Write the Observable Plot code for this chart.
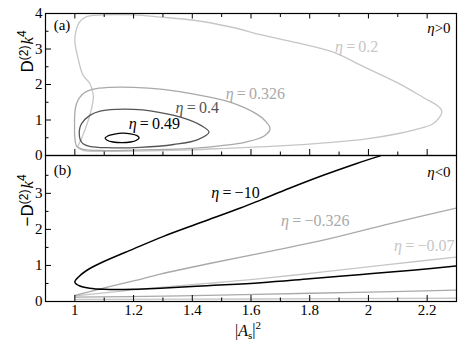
<!DOCTYPE html>
<html><head><meta charset="utf-8">
<script src="https://cdn.jsdelivr.net/npm/d3@7"></script>
<script src="https://cdn.jsdelivr.net/npm/@observablehq/plot@0.6"></script>
<style>
body{margin:0;background:#fff;}
#chart svg{display:block;overflow:visible;}
#chart svg + svg{margin-top:-2px;}
</style></head><body><div id="chart"></div>
<script>
// ---------- data ----------
const xTicks = [1, 1.2, 1.4, 1.6, 1.8, 2, 2.2];
const xMinor = [1.1, 1.3, 1.5, 1.7, 1.9, 2.1];
const yTicksA = [0, 1, 2, 3, 4];
const yTicksB = [0, 1, 2, 3];
const yMinor = [0.5, 1.5, 2.5, 3.5];

// panel (a): closed contours, eta > 0
const eta049 = [[1.103,0.49],[1.112,0.55],[1.135,0.60],[1.161,0.63],[1.19,0.61],[1.212,0.56],[1.219,0.50],[1.21,0.43],[1.19,0.38],[1.161,0.36],[1.13,0.38],[1.11,0.43]];
const eta04 = [[1.015,0.61],[1.017,0.78],[1.023,0.9],[1.051,1.13],[1.086,1.25],[1.143,1.30],[1.2,1.30],[1.257,1.26],[1.36,1.08],[1.429,0.85],[1.457,0.66],[1.417,0.44],[1.337,0.31],[1.223,0.23],[1.109,0.22],[1.05,0.26],[1.028,0.33],[1.018,0.45]];
const eta0326 = [[1.0,0.5],[0.999,0.9],[1.0,1.2],[1.006,1.47],[1.025,1.72],[1.06,1.86],[1.12,1.92],[1.2,1.92],[1.3,1.86],[1.411,1.72],[1.526,1.51],[1.617,1.18],[1.648,0.98],[1.665,0.75],[1.645,0.55],[1.583,0.38],[1.5,0.28],[1.411,0.21],[1.3,0.17],[1.2,0.15],[1.1,0.14],[1.03,0.17],[1.007,0.25]];
const eta02 = [[1.097,3.96],[1.2,3.96],[1.291,3.9],[1.405,3.81],[1.531,3.62],[1.64,3.39],[1.76,3.17],[1.874,2.93],[1.987,2.49],[2.103,2.03],[2.194,1.6],[2.232,1.42],[2.25,1.25],[2.24,1.05],[2.217,0.88],[2.16,0.73],[2.103,0.62],[1.988,0.46],[1.874,0.37],[1.7,0.27],[1.531,0.21],[1.4,0.16],[1.25,0.13],[1.1,0.12],[1.03,0.14],[1.011,0.23],[1.023,0.48],[1.04,0.85],[1.057,1.33],[1.063,1.69],[1.051,2.03],[1.028,2.26],[1.011,2.73],[1.0,3.2],[1.003,3.48],[1.017,3.77],[1.04,3.91]];

// panel (b): open curves, eta < 0
const etaM10 = [[2.04,4.04],[1.96,3.83],[1.846,3.5],[1.731,3.14],[1.634,2.82],[1.566,2.6],[1.429,2.19],[1.3,1.8],[1.2,1.46],[1.086,1.06],[1.04,0.86],[1.015,0.70],[1.0,0.54],[1.017,0.43],[1.05,0.37],[1.1,0.34],[1.2,0.34],[1.291,0.37],[1.45,0.44],[1.634,0.52],[1.8,0.63],[1.977,0.75],[2.15,0.87],[2.309,0.99]];
const etaM0326Upper = [[1.0,0.17],[1.097,0.37],[1.2,0.57],[1.291,0.76],[1.45,1.04],[1.634,1.34],[1.846,1.7],[2.074,2.16],[2.309,2.61]];
const etaM0326Lower = [[1.0,0.12],[1.3,0.15],[1.617,0.2],[2.0,0.26],[2.309,0.32]];
const etaM007Upper = [[1.0,0.16],[1.1,0.24],[1.2,0.32],[1.3,0.40],[1.45,0.50],[1.617,0.62],[1.846,0.82],[2.074,1.03],[2.309,1.24]];
const etaM007Lower = [[1.0,0.06],[1.617,0.07],[2.309,0.09]];

// labels
const labelsAText = ["η=0.2", "η=0.326", "η=0.4", "η=0.49"];
const labelsAX = [1.96, 1.615, 1.417, 1.271];
const labelsAY = [3.06, 1.74, 1.35, 0.88];
const labelsBText = ["η=−10", "η=−0.326"];
const labelsBX = [1.547, 1.819];
const labelsBY = [3.02, 2.24];
const labelB3Text = ["η=−0.07"];
const labelB3X = [2.293];
const labelB3Y = [1.54];

// ---------- styling ----------
const W = 467, ML = 45, MR = 11;
const serif = "'Liberation Serif','Times New Roman',serif";
const sans = "'Liberation Sans',Arial,sans-serif";
const cLight = "#c6c6c6", cMid = "#a9a9a9", cDark = "#555555", cBlack = "#000000";
const plotW = W - ML - MR;

const P = d => d[0], Q = d => d[1];
function curve(data, stroke, closed, sw = 1.3) {
  return Plot.line(data, {x: P, y: Q, stroke, strokeWidth: sw, curve: closed ? "catmull-rom-closed" : "catmull-rom", clip: true});
}
function ticksMarks(plotH, yMaj, withTop) {
  const m = [
    Plot.tickX(xTicks, {x: d => d, insetTop: plotH - 6, stroke: "#000"}),
    Plot.tickX(xMinor, {x: d => d, insetTop: plotH - 3.5, stroke: "#000"}),
    Plot.tickY(yMaj, {y: d => d, insetRight: plotW - 6, stroke: "#000"}),
    Plot.tickY(yMinor, {y: d => d, insetRight: plotW - 3.5, stroke: "#000"})
  ];
  if (withTop) {
    m.push(Plot.tickX(xTicks, {x: d => d, insetBottom: plotH - 5.5, stroke: "#000"}));
    m.push(Plot.tickX(xMinor, {x: d => d, insetBottom: plotH - 4, stroke: "#000"}));
  }
  return m;
}

const chartA = Plot.plot({
  width: W, height: 156, marginLeft: ML, marginRight: MR, marginTop: 13, marginBottom: 1,
  x: {domain: [0.9, 2.3], axis: null},
  y: {domain: [0, 4], axis: null},
  style: {fontFamily: serif, fontSize: "15px", color: "#000", background: "transparent", overflow: "visible"},
  marks: [
    curve(eta02, cLight, true),
    curve(eta0326, cMid, true),
    curve(eta04, cDark, true),
    curve(eta049, cBlack, true),
    ...ticksMarks(142, yTicksA, true),
    Plot.frame({stroke: "#000", strokeWidth: 1.2}),
    Plot.axisY({ticks: yTicksA, tickSize: 0, tickPadding: 3, fontSize: 15, fontFamily: serif, tickFormat: d => String(d)}),
    Plot.text(labelsAText, {x: (d, i) => labelsAX[i], y: (d, i) => labelsAY[i], text: d => d, fontSize: 16, fontFamily: serif,
      fill: (d, i) => [cLight, cMid, cDark, cBlack][i]}),
    Plot.text(["(a)"], {x: 0.928, y: 3.67, text: d => d, textAnchor: "start", fontSize: 15, fontFamily: serif}),
    Plot.text(["η>0"], {x: 2.28, y: 3.59, text: d => d, textAnchor: "end", fontSize: 15, fontFamily: serif}),
    Plot.text(["D⁽²⁾k⁴"], {frameAnchor: "left", text: d => d, rotate: -90, dx: -18, dy: -12, fontSize: 17, fontFamily: sans})
  ]
});

const chartB = Plot.plot({
  width: W, height: 196, marginLeft: ML, marginRight: MR, marginTop: 1, marginBottom: 49,
  x: {domain: [0.9, 2.3], axis: null},
  y: {domain: [0, 4.05], axis: null},
  style: {fontFamily: serif, fontSize: "15px", color: "#000", background: "transparent", overflow: "visible"},
  marks: [
    curve(etaM007Lower, cLight, false),
    curve(etaM007Upper, cLight, false),
    curve(etaM0326Lower, cMid, false),
    curve(etaM0326Upper, cMid, false),
    curve(etaM10, cBlack, false, 1.5),
    ...ticksMarks(146, yTicksB, false),
    Plot.frame({stroke: "#000", strokeWidth: 1.2}),
    Plot.axisY({ticks: yTicksB, tickSize: 0, tickPadding: 3, fontSize: 15, fontFamily: serif, tickFormat: d => String(d)}),
    Plot.axisX({ticks: xTicks, tickSize: 0, tickPadding: 3, fontSize: 15, fontFamily: serif, tickFormat: d => String(d)}),
    Plot.text(labelsBText, {x: (d, i) => labelsBX[i], y: (d, i) => labelsBY[i], text: d => d, fontSize: 16, fontFamily: serif,
      fill: (d, i) => [cBlack, cMid][i]}),
    Plot.text(labelB3Text, {x: (d, i) => labelB3X[i], y: (d, i) => labelB3Y[i], text: d => d, textAnchor: "end", fontSize: 16, fontFamily: serif, fill: cLight}),
    Plot.text(["(b)"], {x: 0.928, y: 3.63, text: d => d, textAnchor: "start", fontSize: 15, fontFamily: serif}),
    Plot.text(["η<0"], {x: 2.28, y: 3.6, text: d => d, textAnchor: "end", fontSize: 15, fontFamily: serif}),
    Plot.text(["−D⁽²⁾k⁴"], {frameAnchor: "left", text: d => d, rotate: -90, dx: -18, dy: -2, fontSize: 17, fontFamily: sans}),
    Plot.text(["|As|²"], {frameAnchor: "bottom", text: d => d, dx: -3, dy: 34, fontSize: 16, fontFamily: serif})
  ]
});

const root = document.getElementById("chart");
root.appendChild(chartA);
root.appendChild(chartB);

// ---------- rich text (italics, super/subscripts) ----------
const NS = "http://www.w3.org/2000/svg";
function ts(parent, txt, attrs = {}) {
  const t = document.createElementNS(NS, "tspan");
  for (const k in attrs) t.setAttribute(k, attrs[k]);
  t.textContent = txt;
  parent.appendChild(t);
  return t;
}
for (const svg of [chartA, chartB]) {
  svg.querySelectorAll("text").forEach(t => {
    const s = t.textContent;
    if (s.startsWith("η")) {
      t.textContent = "";
      ts(t, "η", {"font-style": "italic"});
      ts(t, s.slice(1).replace("=", "\u2009=\u2009"));
    } else if (s === "D⁽²⁾k⁴" || s === "−D⁽²⁾k⁴") {
      t.textContent = "";
      if (s.startsWith("−")) ts(t, "−");
      ts(t, "D");
      ts(t, "(2)", {"font-size": 12, dy: "-0.45em"});
      ts(t, "k", {"font-size": 17, "font-style": "italic", "font-family": serif, dy: "0.32em", dx: "1"});
      ts(t, "4", {"font-size": 12, dy: "-0.6em"});
    } else if (s === "|As|²") {
      t.textContent = "";
      ts(t, "|");
      ts(t, "A", {"font-style": "italic"});
      ts(t, "s", {"font-size": 11, dy: "0.35em"});
      ts(t, "|", {dy: "-0.25em"});
      ts(t, "2", {"font-size": 11, dy: "-0.55em"});
    }
  });
}
</script>
</body></html>
